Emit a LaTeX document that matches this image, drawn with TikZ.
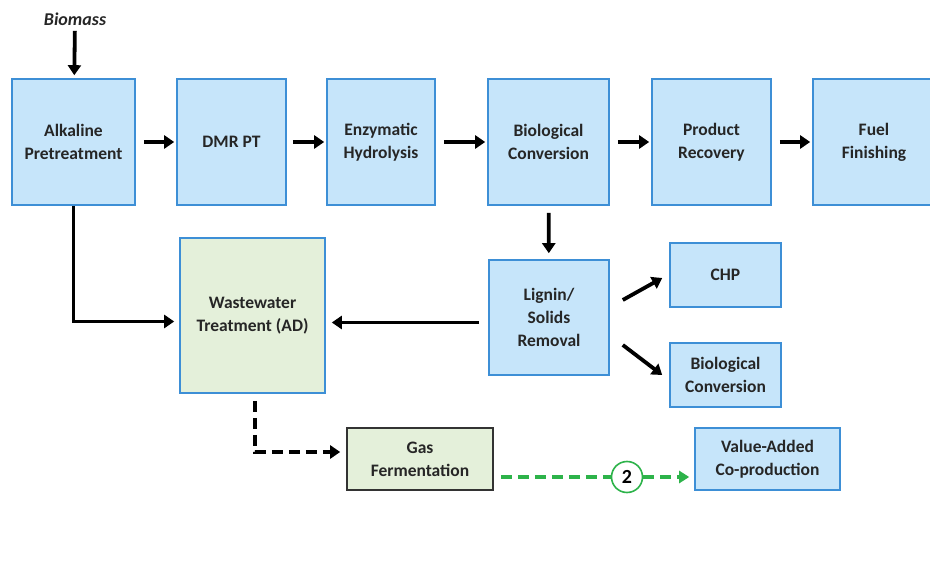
\documentclass[tikz,border=0pt]{standalone}
\usepackage{fontspec}
\setmainfont{Carlito}
\usetikzlibrary{arrows.meta}
\definecolor{boxblue}{HTML}{C6E5FA}
\definecolor{edgeblue}{HTML}{3D8FD6}
\definecolor{boxgreen}{HTML}{E4F0DA}
\definecolor{linegreen}{HTML}{2DB34A}
\begin{document}
\begin{tikzpicture}[
    x=1pt, y=-1pt,
    process/.style={rectangle, draw=edgeblue, line width=1.6pt, fill=boxblue, inner sep=0pt, align=center, font=\fontsize{17.5}{23}\selectfont\bfseries, text=black!85},
    wwbox/.style={process, fill=boxgreen},
    gasbox/.style={process, fill=boxgreen, draw=black!80},
    flow/.style={-{Triangle[length=10pt,width=13pt]}, line width=3.8pt},
    dashflow/.style={flow, dash pattern=on 11pt off 6pt},
    greenflow/.style={dashflow, draw=linegreen, -{Triangle[length=10pt,width=12pt]}},
    label/.style={font=\fontsize{18}{20}\selectfont\bfseries\itshape, text=black!85}
]
\useasboundingbox (0,0) rectangle (930,564);

% === TOP ROW: main process line ===
\node[label] (biomass) at (75,19) {Biomass};
\node[process, minimum width=123pt, minimum height=126pt] (alk) at (73.5,142) {Alkaline\\Pretreatment};
\node[process, minimum width=109pt, minimum height=126pt] (dmr) at (231.5,142) {DMR PT};
\node[process, minimum width=108pt, minimum height=126pt] (enz) at (381,142) {Enzymatic\\Hydrolysis};
\node[process, minimum width=121pt, minimum height=126pt] (bio) at (548.5,142) {Biological\\Conversion};
\node[process, minimum width=119pt, minimum height=126pt] (prod) at (711.5,142) {Product\\Recovery};
\node[process, minimum width=122pt, minimum height=126pt] (fuel) at (874,142) {Fuel\\Finishing};

% Arrows for top row
\draw[flow, shorten <=2pt, shorten >=3pt] (biomass) -- (alk);
\draw[flow, shorten <=8pt, shorten >=2pt] (alk) -- (dmr);
\draw[flow, shorten <=6pt, shorten >=2pt] (dmr) -- (enz);
\draw[flow, shorten <=8pt, shorten >=2pt] (enz) -- (bio);
\draw[flow, shorten <=8pt, shorten >=2pt] (bio) -- (prod);
\draw[flow, shorten <=8pt, shorten >=2pt] (prod) -- (fuel);

% === MIDDLE: solids and wastewater ===
\node[process, minimum width=120pt, minimum height=115pt] (lig) at (549,317.5) {Lignin/\\Solids\\Removal};
\node[process, minimum width=111pt, minimum height=64pt] (chp) at (725.5,275) {CHP};
\node[process, minimum width=111pt, minimum height=64pt] (bio2) at (725.5,375) {Biological\\Conversion};
\node[wwbox, minimum width=145pt, minimum height=155pt] (ww) at (252.5,315.5) {Wastewater\\Treatment (AD)};

\draw[flow, shorten <=7pt, shorten >=6pt] (bio) -- (lig);
\draw[flow] ([shift={(13,-17.5)}]lig.east) -- ([shift={(-7,3)}]chp.west);
\draw[flow] ([shift={(13,27.5)}]lig.east) -- ([shift={(-7,0)}]bio2.west);
\draw[flow, shorten <=9pt, shorten >=6pt] ([yshift=-5pt]lig.west) -- ([yshift=-7pt]ww.east);
\draw[flow, shorten >=5pt] (alk.south) |- ([yshift=-6pt]ww.west);

% === BOTTOM: gas fermentation ===
\node[gasbox, minimum width=146pt, minimum height=62pt] (gas) at (420,459) {Gas\\Fermentation};
\node[process, minimum width=145pt, minimum height=62pt] (val) at (767.5,459) {Value-Added\\Co-production};
\node[circle, draw=linegreen, line width=1.6pt, fill=white, minimum size=31pt, inner sep=0pt, font=\fontsize{20}{20}\selectfont\bfseries] (two) at (627,477) {2};

\draw[dashflow, shorten <=7pt, shorten >=6pt] ([xshift=2.5pt]ww.south) |- ([yshift=7pt]gas.west);
\draw[greenflow, -, shorten <=7pt] ([yshift=-18pt]gas.east) -- (two.west);
\draw[greenflow, shorten >=5pt] (two.east) -- ([yshift=-18pt]val.west);

\end{tikzpicture}
\end{document}
